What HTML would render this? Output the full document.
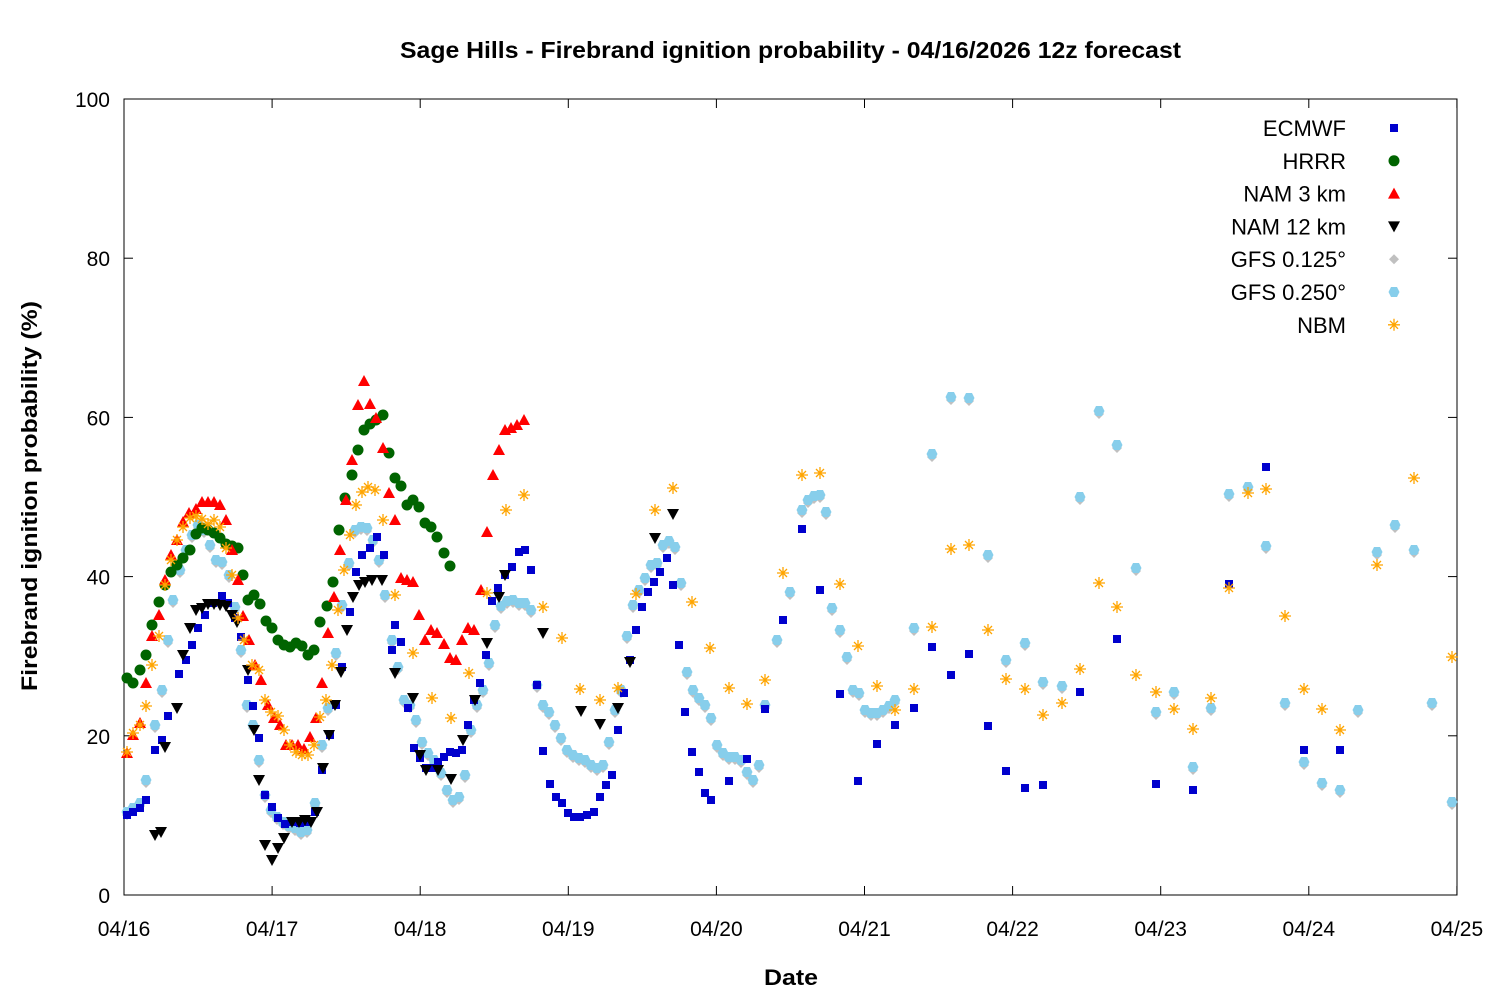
<!DOCTYPE html>
<html><head><meta charset="utf-8"><style>
body{margin:0;background:#fff}
svg{display:block;font-family:"Liberation Sans","DejaVu Sans",sans-serif}
</style></head><body>
<svg id="s" width="1500" height="1000" xmlns="http://www.w3.org/2000/svg">
<rect width="1500" height="1000" fill="#fff"/>
<text x="400" y="58" font-size="23" font-weight="bold" textLength="781" lengthAdjust="spacingAndGlyphs">Sage Hills - Firebrand ignition probability - 04/16/2026 12z forecast</text>
<rect x="124" y="99" width="1333" height="796" fill="none" stroke="#000" stroke-width="1"/>
<g id="ticks" stroke="#000"></g>
<g id="tl" font-size="21"></g>
<text x="764" y="985" font-size="22" font-weight="bold" textLength="54" lengthAdjust="spacingAndGlyphs">Date</text>
<text transform="translate(37,691) rotate(-90)" font-size="22" font-weight="bold" textLength="390" lengthAdjust="spacingAndGlyphs">Firebrand ignition probability (%)</text>
<g id="pts"></g>
<g id="leg" font-size="22" text-anchor="end"></g>
</svg>
<script>
const NS="http://www.w3.org/2000/svg";
function el(t,a,p,txt){const e=document.createElementNS(NS,t);for(const k in a)e.setAttribute(k,a[k]);if(txt!==undefined)e.textContent=txt;p.appendChild(e);return e;}
const ticks=document.getElementById('ticks'),tl=document.getElementById('tl');
for(let i=0;i<=5;i++){const y=895-i*159.2;el('line',{x1:124,y1:y,x2:133,y2:y},ticks);el('line',{x1:1457,y1:y,x2:1448,y2:y},ticks);
el('text',{x:110,y:y+8,'text-anchor':'end'},tl,String(i*20));}
const days=['04/16','04/17','04/18','04/19','04/20','04/21','04/22','04/23','04/24','04/25'];
for(let i=0;i<=9;i++){const x=124+i*148.1;el('line',{x1:x,y1:895,x2:x,y2:886},ticks);el('line',{x1:x,y1:99,x2:x,y2:108},ticks);
el('text',{x:x,y:936,'text-anchor':'middle'},tl,days[i]);}
const g=document.getElementById('pts');
function mk(type,x,y,col){
 if(type=='sq')el('rect',{x:x-4,y:y-4,width:8,height:8,fill:col},g);
 else if(type=='ci')el('circle',{cx:x,cy:y,r:5.5,fill:col},g);
 else if(type=='tu')el('polygon',{points:`${x},${y-6} ${x-6},${y+5} ${x+6},${y+5}`,fill:col},g);
 else if(type=='td')el('polygon',{points:`${x},${y+6} ${x-6},${y-5} ${x+6},${y-5}`,fill:col},g);
 else if(type=='di')el('polygon',{points:`${x},${y-5} ${x+5},${y} ${x},${y+5} ${x-5},${y}`,fill:col},g);
 else if(type=='hx')el('polygon',{points:`${x-3},${y-5} ${x+3},${y-5} ${x+5.5},${y} ${x+3},${y+5} ${x-3},${y+5} ${x-5.5},${y}`,fill:col},g);
 else if(type=='as'){const s=6;el('path',{d:`M${x-s},${y}H${x+s}M${x},${y-s}V${y+s}M${x-4},${y-4}L${x+4},${y+4}M${x-4},${y+4}L${x+4},${y-4}`,stroke:col,'stroke-width':1.3,fill:'none'},g);}
}
function P(s){const a=s.trim().split(/[\s,]+/).map(Number);const r=[];for(let i=0;i<a.length;i+=2)r.push([a[i],a[i+1]]);return r;}
const hrrr=P(`127,678 133,683 140,670 146,655 152,625 159,602 165,585 171,572 177,565 183,558 190,550 196,534 202,528 208,530 214,533 220,538 226,544 232,546 238,548 243,575 248,600 254,595 260,604 266,621 272,628 278,640 284,645 290,647 296,643 302,646 308,655 314,650 320,622 327,606 333,582 339,530 345,498 352,475 358,450 364,430 370,424 376,420 383,415 389,453 395,478 401,486 407,505 413,500 419,507 425,523 431,527 437,537 444,553 450,566`);
const nam3=P(`127,753 133,735 140,723 146,683 152,636 159,615 165,580 171,555 177,540 183,522 189,513 196,509 202,502 208,502 214,502 220,505 226,520 232,550 238,580 243,616 249,640 255,665 261,680 268,705 274,718 280,725 286,745 292,745 298,745 304,749 310,737 316,718 322,683 328,633 334,597 340,550 346,500 352,460 358,405 364,381 370,404 376,418 383,448 389,493 395,520 401,578 407,580 413,582 419,615 425,640 431,630 437,633 444,644 450,658 456,660 462,640 468,628 474,630 481,590 487,532 493,475 499,450 505,430 511,428 517,425 524,420`);
const nam12=P(`155,835 161,832 165,747 177,708 183,655 190,628 196,610 202,608 208,604 214,604 220,605 226,606 232,615 237,622 248,670 254,730 259,780 265,845 272,860 278,848 284,838 292,822 299,822 305,820 311,822 317,812 323,768 329,735 335,705 341,672 347,630 353,597 359,585 365,582 372,580 382,580 395,673 413,698 420,755 426,770 438,770 451,779 463,740 475,700 487,643 499,597 505,575 543,633 581,711 600,724 618,708 630,662 655,538 673,514`);
const gfs=P(`127,812 133,808 140,803 146,780 155,725 162,690 168,640 173,600 180,570 186,550 192,535 198,525 204,530 210,545 216,560 222,562 229,575 235,607 241,650 247,705 253,725 259,760 265,795 271,810 277,817 283,822 289,826 295,828 301,832 307,830 315,803 322,745 328,708 336,653 342,605 349,563 355,530 361,527 367,528 373,540 379,560 385,595 392,640 398,667 404,700 410,705 416,720 422,742 428,753 434,760 441,773 447,790 453,800 459,797 465,775 471,730 477,705 483,690 489,663 495,625 501,606 507,601 513,600 519,603 525,603 531,610 537,685 543,705 549,712 555,725 561,738 567,750 573,755 579,758 585,760 591,765 597,768 603,765 609,742 615,710 621,690 627,636 633,605 639,590 645,578 651,565 657,563 663,545 669,541 675,547 681,583 687,672 693,690 699,698 705,705 711,718 717,745 723,753 729,757 735,757 741,760 747,772 753,780 759,765 765,705 777,640 790,592 802,510 808,500 814,496 820,495 826,512 832,608 840,630 847,657 853,690 859,693 865,710 871,713 877,713 883,710 889,706 895,700 914,628 932,454 951,397 969,398 988,555 1006,660 1025,643 1043,682 1062,686 1080,497 1099,411 1117,445 1136,568 1156,712 1174,692 1193,767 1211,708 1229,494 1248,487 1266,546 1285,703 1304,762 1322,783 1340,790 1358,710 1377,552 1395,525 1414,550 1432,703 1452,802`);
const nbm=P(`127,752 133,733 140,725 146,706 152,665 159,636 165,585 171,560 177,540 183,527 190,518 196,516 202,519 208,524 214,520 220,527 226,548 232,575 238,618 244,640 252,665 259,670 265,700 271,712 278,716 284,730 290,745 296,752 302,755 308,755 314,745 320,717 326,700 332,665 338,610 344,570 350,535 356,505 362,492 368,487 375,490 383,520 395,595 413,653 432,698 451,718 469,673 487,593 506,510 524,495 543,607 562,638 580,689 600,700 618,688 636,594 655,510 673,488 692,602 710,648 729,688 747,704 765,680 783,573 802,475 820,473 840,584 858,646 877,686 895,710 914,689 932,627 951,549 969,545 988,630 1006,679 1025,689 1043,715 1062,703 1080,669 1099,583 1117,607 1136,675 1156,692 1174,709 1193,729 1211,698 1229,588 1248,493 1266,489 1285,616 1304,689 1322,709 1340,730 1377,565 1414,478 1452,657`);
const ec=P(`127,815 133,812 140,808 146,800 155,750 162,740 168,716 179,674 186,660 192,645 198,628 205,615 213,603 222,596 228,603 235,618 241,637 248,680 253,706 259,738 265,795 272,807 278,818 285,824 292,822 300,823 307,822 315,812 322,770 330,735 336,705 342,667 350,612 356,572 362,555 370,548 377,537 384,555 392,650 395,625 401,642 408,708 414,748 420,758 426,768 432,768 438,762 444,757 450,752 456,753 462,750 468,725 474,700 480,683 486,655 492,601 498,588 505,575 512,567 519,552 525,550 531,570 537,685 543,751 550,784 556,797 562,803 568,813 574,817 580,817 587,815 594,812 600,797 606,785 612,775 618,730 624,693 630,660 636,630 642,607 648,592 654,582 660,572 667,558 673,585 679,645 685,712 692,752 699,772 705,793 711,800 729,781 747,759 765,709 783,620 802,529 820,590 840,694 858,781 877,744 895,725 914,708 932,647 951,675 969,654 988,726 1006,771 1025,788 1043,785 1080,692 1117,639 1156,784 1193,790 1229,584 1266,467 1304,750 1340,750`);
gfs.forEach(p=>mk('di',p[0],p[1]+3,'#c0c0c0'));
gfs.forEach(p=>mk('hx',p[0],p[1],'#87ceeb'));
ec.forEach(p=>mk('sq',p[0],p[1],'#0000cd'));
nam12.forEach(p=>mk('td',p[0],p[1],'#000'));
hrrr.forEach(p=>mk('ci',p[0],p[1],'#006400'));
nam3.forEach(p=>mk('tu',p[0],p[1],'#ff0000'));
nbm.forEach(p=>mk('as',p[0],p[1],'#ffa500'));
const leg=document.getElementById('leg');
const L=[['ECMWF','sq','#0000cd'],['HRRR','ci','#006400'],['NAM 3 km','tu','#ff0000'],['NAM 12 km','td','#000'],['GFS 0.125°','di','#c0c0c0'],['GFS 0.250°','hx','#87ceeb'],['NBM','as','#ffa500']];
L.forEach((l,i)=>{const y=128+i*32.8;el('text',{x:1346,y:y+8},leg,l[0]);mk(l[1],1394,y,l[2]);});
</script>
</body></html>
